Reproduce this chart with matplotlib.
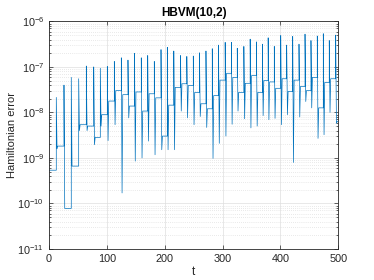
import matplotlib
matplotlib.use('Agg')
import matplotlib.pyplot as plt
from matplotlib.ticker import LogLocator, NullFormatter, FixedLocator

plt.rcParams['font.family'] = ['Liberation Sans', 'DejaVu Sans']
plt.rcParams['mathtext.default'] = 'regular'

# error level before the first spike (log10)
start_exp = -9.27

# one entry per spike: time, peak, lowest dip after it, level held until the next one (log10)
spike_t = [12.6, 25.9, 38.5, 51.3, 64.5, 77.3, 88.7, 100.8, 112.9, 125.0,
           136.5, 147.8, 159.5, 170.6, 182.0, 193.6, 204.5, 215.7, 227.3, 238.2,
           249.4, 260.1, 271.3, 282.2, 293.0, 304.5, 315.2, 325.4, 336.8, 347.7,
           358.5, 368.8, 378.8, 389.4, 400.5, 410.8, 421.2, 432.1, 442.5, 452.8,
           463.7, 474.1, 484.4, 495.5]
peak_exp = [-7.67, -7.40, -7.23, -7.26, -6.98, -7.00, -7.03, -6.99, -6.88, -6.80,
            -6.85, -6.70, -6.80, -6.75, -6.88, -6.62, -6.57, -6.65, -6.75, -6.77,
            -6.76, -6.69, -6.65, -6.60, -6.52, -6.46, -6.46, -6.59, -6.55, -6.39,
            -6.45, -6.50, -6.36, -6.55, -6.31, -6.52, -6.33, -6.50, -6.28, -6.42,
            -6.32, -6.27, -6.42, -6.30]
dip_exp = [-8.80, -10.11, -9.18, -8.40, -8.40, -8.71, -8.30, -8.62, -8.27, -9.77,
           -8.12, -9.07, -9.00, -8.63, -8.93, -8.82, -8.82, -8.82, -7.97, -8.12,
           -8.27, -8.09, -8.33, -9.01, -8.68, -8.52, -8.26, -7.97, -8.14, -8.34,
           -8.30, -8.07, -8.16, -8.13, -8.27, -8.05, -9.10, -8.10, -7.76, -7.90,
           -8.57, -8.49, -8.00, -8.24]
level_exp = [-8.74, -10.11, -9.18, -8.27, -8.30, -8.55, -8.05, -7.75, -7.52, -7.61,
             -7.86, -7.55, -7.97, -7.59, -7.68, -8.52, -7.84, -7.45, -7.37, -7.41,
             -7.56, -7.81, -7.92, -7.63, -7.29, -7.14, -7.23, -7.56, -7.36, -7.19,
             -7.56, -7.30, -7.33, -7.47, -7.26, -7.54, -7.29, -7.43, -7.52, -7.23,
             -7.90, -7.34, -7.26, -8.20]
t_end = 500

# build the step/spike path
tt, ee = [0.0], [start_exp]
prev = start_exp
for t, p, d, l in zip(spike_t, peak_exp, dip_exp, level_exp):
    tt += [t, t, t + 1.3, t + 2.5]
    ee += [prev, p, d, l]
    prev = l
tt.append(t_end)
ee.append(prev)
err = [10.0 ** e for e in ee]

fig = plt.figure(figsize=(3.74, 2.80), dpi=100)
ax = fig.add_axes([0.131, 0.111, 0.7735, 0.8125])
ax.plot(tt, err, color='#0072BD', lw=0.5)

ax.set_yscale('log')
ax.set_xlim(0, 500)
ax.set_ylim(1e-11, 1e-6)
ax.xaxis.set_major_locator(FixedLocator([0, 100, 200, 300, 400, 500]))
ax.yaxis.set_major_locator(LogLocator(base=10, numticks=10))
ax.yaxis.set_minor_locator(LogLocator(base=10, subs=range(2, 10), numticks=20))
ax.yaxis.set_minor_formatter(NullFormatter())
ax.xaxis.offsetText.set_visible(False)
ax.yaxis.offsetText.set_visible(False)

ax.grid(which='major', color='#dedede', lw=0.5)
ax.grid(which='minor', axis='y', color='#d4d4d4', ls=(0, (1, 2)), lw=0.5)
ax.set_axisbelow(True)

for s in ax.spines.values():
    s.set_color('#262626')
    s.set_linewidth(0.6)
ax.tick_params(which='both', direction='in', top=True, right=True,
               colors='#262626', labelsize=7.8, width=0.5)
ax.tick_params(which='major', length=3)
ax.tick_params(which='minor', length=1.5)

ax.set_title('HBVM(10,2)', fontsize=8.5, fontweight='bold', color='#000000', pad=4)
ax.set_xlabel('t', fontsize=8.5, color='#262626', labelpad=1.5)
ax.set_ylabel('Hamiltonian error', fontsize=8, color='#262626', labelpad=0)

fig.savefig('out.png', dpi=100)
